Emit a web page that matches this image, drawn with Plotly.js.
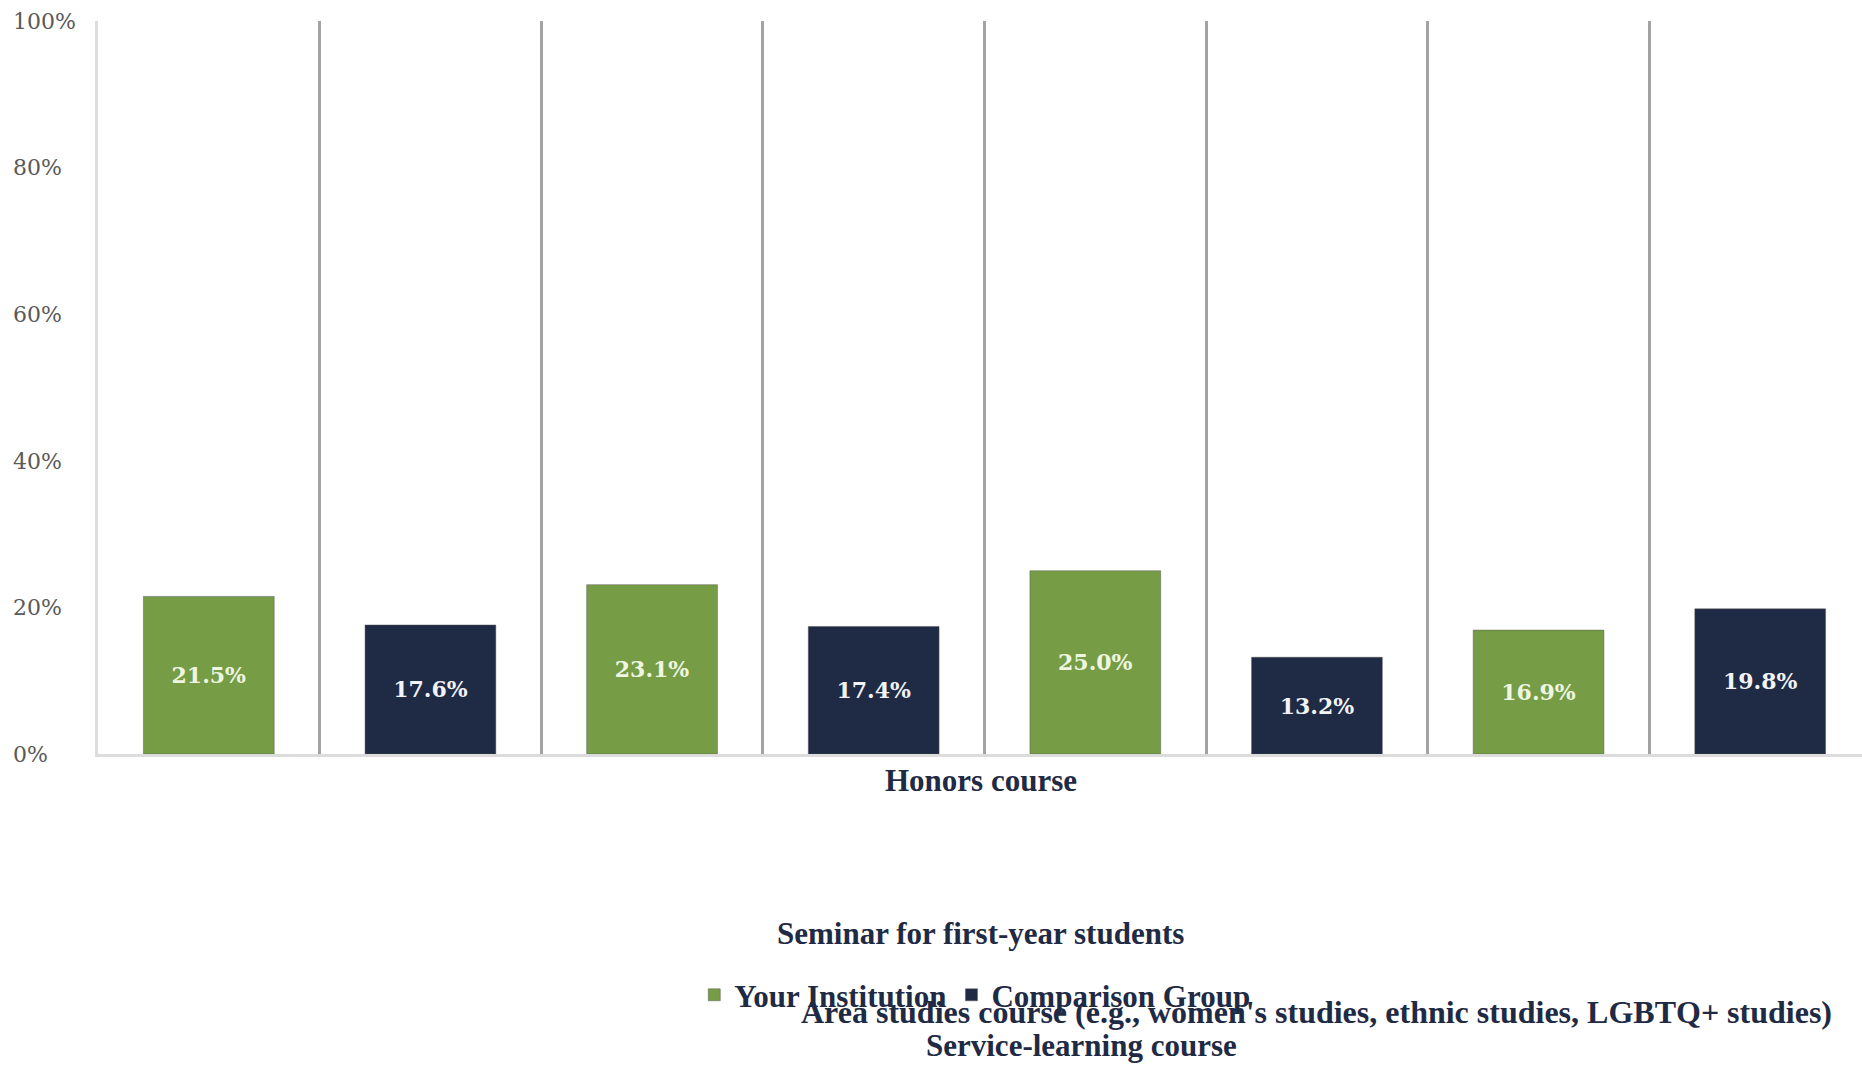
<!DOCTYPE html>
<html>
<head>
<meta charset="utf-8">
<script src="https://cdn.plot.ly/plotly-3.0.1.min.js"></script>
<style>
  html, body { margin: 0; padding: 0; background: #ffffff; overflow: hidden; }
  #chart { width: 1871px; height: 1066px; }
</style>
</head>
<body>
<div id="chart"></div>
<script>
// ---- data ----
const courses = [
  "Honors course",
  "Seminar for first-year students",
  "Area studies course (e.g., women's studies, ethnic studies, LGBTQ+ studies)",
  "Service-learning course"
];
const seriesNames = ["Your Institution", "Comparison Group"];
const yourInstitution = [21.5, 23.1, 25.0, 16.9];
const comparisonGroup = [17.6, 17.4, 13.2, 19.8];
const yTickValues = [0, 20, 40, 60, 80, 100];

// ---- build ----
const key = (c, s) => c + " | " + s;
const categoryOrder = [];
courses.forEach(c => seriesNames.forEach(s => categoryOrder.push(key(c, s))));

const GREEN = "#769d46";
const NAVY = "#1f2a44";
const TEXT = "#1f2a44";
const serif = "'Liberation Serif', 'Times New Roman', serif";

const seriesValues = [yourInstitution, comparisonGroup];
const seriesColors = [GREEN, NAVY];
const labelColors = ["#eef6e2", "#f1f3f7"];

const traces = seriesNames.map((s, i) => ({
  type: "bar",
  name: s,
  x: courses.map(c => key(c, s)),
  y: seriesValues[i],
  marker: { color: seriesColors[i], line: { color: "rgba(80,80,80,0.45)", width: 1 } },
  text: seriesValues[i].map(v => v.toFixed(1) + "%"),
  textposition: "inside",
  insidetextanchor: "middle",
  textangle: 0,
  constraintext: "none",
  textfont: { family: "'DejaVu Serif', serif", size: 22, color: labelColors[i], weight: "bold" },
  hoverinfo: "skip"
}));

// label placement (paper coordinates) for the category titles, as in the reference
const labelPos = [
  { x: 0.5243, y: -0.036, size: 31 },
  { x: 0.5243, y: -0.245, size: 31 },
  { x: 0.7034, y: -0.352, size: 32 },
  { x: 0.578, y: -0.397, size: 31 }
];

const annotations = courses.map((c, i) => ({
  text: c,
  xref: "paper", yref: "paper",
  x: labelPos[i].x, y: labelPos[i].y,
  xanchor: "center", yanchor: "middle",
  showarrow: false,
  font: { family: serif, size: labelPos[i].size, color: TEXT, weight: "bold" }
}));

const layout = {
  width: 1871,
  height: 1066,
  margin: { l: 0, r: 0, t: 21, b: 312 },
  paper_bgcolor: "#ffffff",
  plot_bgcolor: "#ffffff",
  barmode: "overlay",
  bargap: 0.41,
  showlegend: true,
  legend: {
    orientation: "h",
    x: 0.521, xanchor: "center",
    y: -0.329, yanchor: "middle",
    font: { family: serif, size: 31, color: TEXT, weight: "bold" },
    traceorder: "normal",
    bgcolor: "rgba(0,0,0,0)"
  },
  xaxis: {
    type: "category",
    categoryorder: "array",
    categoryarray: categoryOrder,
    domain: [98 / 1871, 1],
    showticklabels: false,
    ticks: "",
    tickson: "boundaries",
    showgrid: true,
    gridcolor: "#a3a3a3",
    gridwidth: 3,
    showline: true,
    linecolor: "#dcdcdc",
    linewidth: 3,
    zeroline: false,
    fixedrange: true
  },
  yaxis: {
    range: [0, 100],
    tickvals: yTickValues,
    showticklabels: false,
    ticks: "",
    showgrid: false,
    zeroline: false,
    showline: true,
    linecolor: "#dcdcdc",
    linewidth: 3,
    fixedrange: true
  },
  yaxis2: {
    overlaying: "y",
    anchor: "free",
    position: 0,
    side: "right",
    range: [0, 100],
    tickvals: yTickValues,
    ticktext: yTickValues.map(v => v + "%"),
    ticks: "",
    ticklabelstandoff: 12,
    showgrid: false,
    zeroline: false,
    showline: false,
    tickfont: { family: "'DejaVu Serif', serif", size: 22, color: "#595959" },
    fixedrange: true
  },
  annotations: annotations
};

// an invisible trace to attach the left tick-label axis
traces.push({
  type: "scatter", x: [categoryOrder[0]], y: [0], yaxis: "y2",
  mode: "markers", marker: { opacity: 0 }, showlegend: false, hoverinfo: "skip"
});

Plotly.newPlot("chart", traces, layout, { displayModeBar: false, staticPlot: true });
</script>
</body>
</html>
